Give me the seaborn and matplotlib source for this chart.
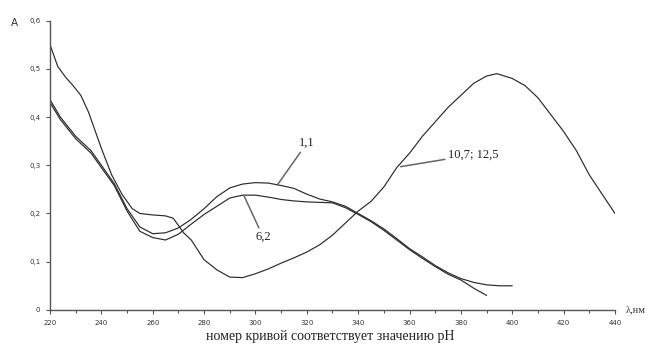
import numpy as np
import pandas as pd
import seaborn as sns
import matplotlib.pyplot as plt
from matplotlib.ticker import MultipleLocator, FuncFormatter

# wavelengths, nm
wl_a = [220, 223, 226, 229, 232, 235, 240, 244, 248, 252, 255, 260, 265, 268, 272, 275,
        280, 285, 290, 295, 300, 305, 310, 315, 320, 325, 330, 335, 340, 345, 350,
        355, 360, 365, 370, 375, 380, 385, 390, 394, 400, 405, 410, 415, 420, 425,
        430, 435, 440]
# pH 10,7; 12,5
a_107 = [0.55, 0.505, 0.483, 0.465, 0.445, 0.41, 0.335, 0.28, 0.24, 0.21, 0.20, 0.197,
         0.195, 0.19, 0.16, 0.145, 0.104, 0.083, 0.068, 0.067, 0.075, 0.085, 0.097,
         0.108, 0.12, 0.135, 0.155, 0.18, 0.205, 0.225, 0.255, 0.295, 0.325, 0.36,
         0.39, 0.42, 0.445, 0.47, 0.485, 0.49, 0.48, 0.465, 0.44, 0.405, 0.37, 0.33,
         0.28, 0.24, 0.20]

wl_b = [220, 224, 230, 236, 240, 245, 250, 255, 260, 265, 270, 275, 280, 285, 290,
        295, 300, 305, 310, 315, 320, 325, 330, 335, 340, 345, 350, 355, 360, 365,
        370, 375, 380, 385, 390, 395, 400]
# pH 1,1
a_11 = [0.436, 0.40, 0.36, 0.33, 0.30, 0.262, 0.21, 0.172, 0.158, 0.16, 0.17, 0.188,
        0.21, 0.235, 0.253, 0.261, 0.264, 0.263, 0.258, 0.252, 0.24, 0.23, 0.224,
        0.215, 0.2, 0.185, 0.168, 0.148, 0.127, 0.11, 0.092, 0.077, 0.065, 0.057,
        0.052, 0.05, 0.05]

wl_c = [220, 224, 230, 236, 240, 245, 250, 255, 260, 265, 270, 275, 280, 285, 290,
        295, 300, 305, 310, 315, 320, 325, 330, 335, 340, 345, 350, 355, 360, 365,
        370, 375, 380, 385, 390]
# pH 6,2
a_62 = [0.43, 0.395, 0.355, 0.325, 0.295, 0.258, 0.205, 0.163, 0.15, 0.145, 0.157,
        0.178, 0.198, 0.215, 0.232, 0.238, 0.238, 0.234, 0.229, 0.226, 0.224, 0.223,
        0.222, 0.212, 0.198, 0.183, 0.165, 0.145, 0.125, 0.107, 0.09, 0.074, 0.062,
        0.045, 0.03]

df = pd.concat([
    pd.DataFrame({'wl': wl_a, 'A': a_107, 'pH': '10,7; 12,5'}),
    pd.DataFrame({'wl': wl_b, 'A': a_11, 'pH': '1,1'}),
    pd.DataFrame({'wl': wl_c, 'A': a_62, 'pH': '6,2'}),
])

sns.set_style('white')
fig = plt.figure(figsize=(6.67, 3.49), dpi=100)
ax = fig.add_axes([0.075, 0.112, 0.847, 0.829])

sns.lineplot(data=df, x='wl', y='A', hue='pH', units='pH', estimator=None,
             palette=['#2a2a2a'] * 3, linewidth=0.85, legend=False, sort=False, ax=ax)

ax.set_xlim(220, 440)
ax.set_ylim(0, 0.6)
ax.xaxis.set_major_locator(MultipleLocator(20))
ax.xaxis.set_minor_locator(MultipleLocator(10))
ax.yaxis.set_major_locator(MultipleLocator(0.1))
ax.yaxis.set_major_formatter(FuncFormatter(lambda v, p: ('%g' % round(v, 1)).replace('.', ',')))
ax.tick_params(axis='both', which='both', direction='out', length=3, width=0.8,
               color='#555555', labelsize=5, labelcolor='#333333', pad=4,
               bottom=True, left=True)
ax.tick_params(axis='x', which='minor', length=2)
for s in ['top', 'right']:
    ax.spines[s].set_visible(False)
for s in ['left', 'bottom']:
    ax.spines[s].set_color('#555555')
    ax.spines[s].set_linewidth(1.0)
ax.set_xlabel('')
ax.set_ylabel('')

fig.text(0.017, 0.935, 'A', fontsize=7.5, color='#333333', va='center')
fig.text(0.938, 0.112, 'λ,нм', fontsize=7.5, color='#333333', va='center',
         family='Liberation Serif')
fig.text(0.495, 0.035, 'номер кривой соответствует значению pH', fontsize=10,
         family='Liberation Serif', ha='center', va='center', color='#222222')

lead = dict(arrowstyle='-', color='#666666', lw=1.1, shrinkA=0, shrinkB=0)
txt = dict(fontsize=9, family='Liberation Serif', color='#222222')
ax.annotate('1,1', xy=(308.5, 0.259), xytext=(317, 0.346), ha='left', va='center',
            arrowprops=lead, **txt)
ax.annotate('6,2', xy=(295.6, 0.236), xytext=(303, 0.151), ha='center', va='center',
            arrowprops=lead, **txt)
ax.annotate('10,7; 12,5', xy=(356.5, 0.297), xytext=(375, 0.322), ha='left', va='center',
            arrowprops=lead, **txt)

fig.savefig('out.png', dpi=100)
